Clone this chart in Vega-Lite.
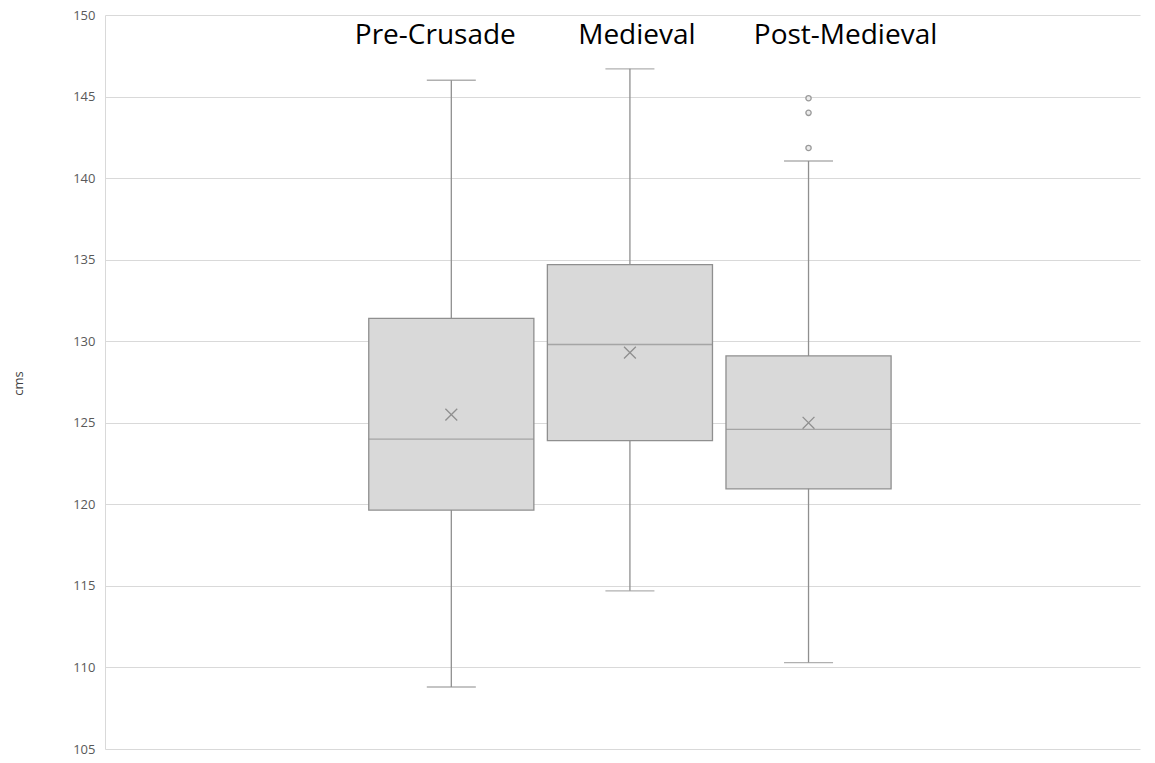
{
  "$schema": "https://vega.github.io/schema/vega-lite/v6.json",
  "width": 1035,
  "height": 734,
  "autosize": {"type": "none"},
  "padding": {"left": 105, "top": 15, "right": 15, "bottom": 14},
  "background": "white",
  "config": {"view": {"stroke": null}, "font": "Open Sans"},
  "datasets": {
    "stats": [
      {"period": "Pre-Crusade", "lower": 108.8, "q1": 119.65, "median": 124.0, "q3": 131.4, "upper": 146.0, "mean": 125.5},
      {"period": "Medieval", "lower": 114.7, "q1": 123.9, "median": 129.8, "q3": 134.7, "upper": 146.7, "mean": 129.3},
      {"period": "Post-Medieval", "lower": 110.3, "q1": 120.95, "median": 124.6, "q3": 129.1, "upper": 141.05, "mean": 125.0}
    ],
    "outliers": [
      {"period": "Post-Medieval", "value": 144.9},
      {"period": "Post-Medieval", "value": 144.0},
      {"period": "Post-Medieval", "value": 141.85}
    ]
  },
  "data": {"name": "stats"},
  "layer": [
    {
      "mark": {"type": "rule", "color": "#8f8f8f", "strokeWidth": 1.3},
      "encoding": {
        "x": {"datum": "all", "type": "nominal", "axis": null,
          "scale": {"type": "band", "domain": ["all"], "paddingInner": 0, "paddingOuter": 0.458, "align": 0.515}},
        "xOffset": {"field": "period", "type": "nominal", "sort": null,
          "scale": {"type": "band", "domain": ["Pre-Crusade", "Medieval", "Post-Medieval"], "paddingInner": 0.0756, "paddingOuter": 0.05}},
        "y": {"field": "lower", "type": "quantitative",
          "scale": {"domain": [105, 150], "nice": false, "zero": false},
          "axis": {"values": [105, 110, 115, 120, 125, 130, 135, 140, 145, 150], "grid": true, "gridColor": "#d9d9d9", "gridWidth": 1, "domain": true, "domainColor": "#d9d9d9", "ticks": false, "labelColor": "#595959", "labelFontSize": 13, "labelPadding": 10, "title": "cms", "titleColor": "#404040", "titleFontSize": 13, "titleFontWeight": "normal", "titleX": -87, "titleY": 368, "titleAngle": -90, "titleAlign": "center", "titleBaseline": "middle"}},
        "y2": {"field": "upper"}
      }
    },
    {
      "mark": {"type": "tick", "color": "#8f8f8f", "size": 49, "thickness": 1.3},
      "encoding": {
        "x": {"datum": "all", "type": "nominal", "axis": null},
        "xOffset": {"field": "period", "type": "nominal", "sort": null},
        "y": {"field": "lower", "type": "quantitative"}
      }
    },
    {
      "mark": {"type": "tick", "color": "#8f8f8f", "size": 49, "thickness": 1.3},
      "encoding": {
        "x": {"datum": "all", "type": "nominal", "axis": null},
        "xOffset": {"field": "period", "type": "nominal", "sort": null},
        "y": {"field": "upper", "type": "quantitative"}
      }
    },
    {
      "mark": {"type": "bar", "fill": "#d9d9d9", "stroke": "#8f8f8f", "strokeWidth": 1.3},
      "encoding": {
        "x": {"datum": "all", "type": "nominal", "axis": null},
        "xOffset": {"field": "period", "type": "nominal", "sort": null},
        "y": {"field": "q1", "type": "quantitative"},
        "y2": {"field": "q3"}
      }
    },
    {
      "mark": {"type": "tick", "color": "#8f8f8f", "size": 165, "thickness": 1.3},
      "encoding": {
        "x": {"datum": "all", "type": "nominal", "axis": null},
        "xOffset": {"field": "period", "type": "nominal", "sort": null},
        "y": {"field": "median", "type": "quantitative"}
      }
    },
    {
      "mark": {"type": "point", "shape": "M-1,-1L1,1M1,-1L-1,1", "filled": false, "stroke": "#8f8f8f", "strokeWidth": 1.3, "size": 140, "opacity": 1},
      "encoding": {
        "x": {"datum": "all", "type": "nominal", "axis": null},
        "xOffset": {"field": "period", "type": "nominal", "sort": null},
        "y": {"field": "mean", "type": "quantitative"}
      }
    },
    {
      "data": {"name": "outliers"},
      "mark": {"type": "point", "shape": "circle", "filled": true, "fill": "#ececec", "stroke": "#9a9a9a", "strokeWidth": 1.3, "size": 28, "opacity": 1},
      "encoding": {
        "x": {"datum": "all", "type": "nominal", "axis": null},
        "xOffset": {"field": "period", "type": "nominal", "sort": null},
        "y": {"field": "value", "type": "quantitative"}
      }
    },
    {
      "transform": [{"filter": "datum.period == 'Pre-Crusade'"}],
      "mark": {"type": "text", "fontSize": 28, "color": "#000000", "baseline": "alphabetic", "align": "center", "dx": -16},
      "encoding": {
        "x": {"datum": "all", "type": "nominal", "axis": null},
        "xOffset": {"field": "period", "type": "nominal", "sort": null},
        "y": {"datum": 148.2},
        "text": {"field": "period"}
      }
    },
    {
      "transform": [{"filter": "datum.period == 'Medieval'"}],
      "mark": {"type": "text", "fontSize": 28, "color": "#000000", "baseline": "alphabetic", "align": "center", "dx": 7},
      "encoding": {
        "x": {"datum": "all", "type": "nominal", "axis": null},
        "xOffset": {"field": "period", "type": "nominal", "sort": null},
        "y": {"datum": 148.2},
        "text": {"field": "period"}
      }
    },
    {
      "transform": [{"filter": "datum.period == 'Post-Medieval'"}],
      "mark": {"type": "text", "fontSize": 28, "color": "#000000", "baseline": "alphabetic", "align": "center", "dx": 37},
      "encoding": {
        "x": {"datum": "all", "type": "nominal", "axis": null},
        "xOffset": {"field": "period", "type": "nominal", "sort": null},
        "y": {"datum": 148.2},
        "text": {"field": "period"}
      }
    }
  ]
}
